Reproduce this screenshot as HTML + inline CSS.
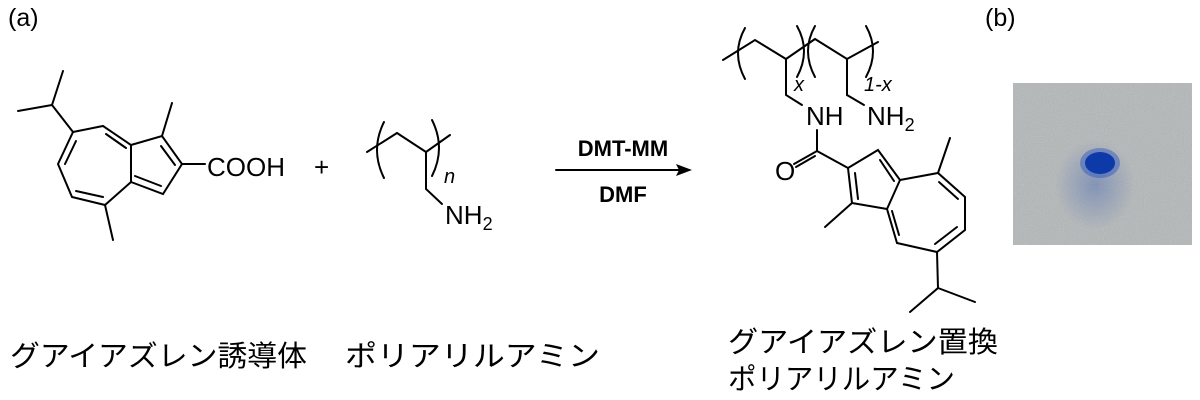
<!DOCTYPE html>
<html><head><meta charset="utf-8"><style>
html,body{margin:0;padding:0;background:#fff;width:1200px;height:400px;overflow:hidden}
text{font-family:"Liberation Sans",Arial,sans-serif;fill:#000}
.jp{font-family:"Liberation Sans","Noto Sans CJK JP",sans-serif;font-size:29px}
</style></head><body>
<svg width="1200" height="400" viewBox="0 0 1200 400" xmlns="http://www.w3.org/2000/svg">
<defs>
<filter id="noise" filterUnits="userSpaceOnUse" x="1013" y="83" width="179" height="162"><feTurbulence type="fractalNoise" baseFrequency="0.9" numOctaves="2" seed="3"/><feColorMatrix type="saturate" values="0"/><feComponentTransfer><feFuncA type="linear" slope="0.5"/></feComponentTransfer></filter>
<radialGradient id="blue" cx="0.5" cy="0.5" r="0.5"><stop offset="0" stop-color="#1040b0" stop-opacity="0.3"/><stop offset="1" stop-color="#1040b0" stop-opacity="0"/></radialGradient>
<clipPath id="ph"><rect x="1013" y="83" width="179" height="162"/></clipPath>
</defs>
<text x="8" y="26" font-size="25">(a)</text>
<text x="985" y="26" font-size="25">(b)</text>
<g stroke="#000" stroke-width="2" fill="none" stroke-linecap="round">
<path d="M18,111 L52,105 L63,71 M52,105 L73,132"/>
<path d="M73,132 L103,126 L131,145 L131,182 L105,205 L72,197 L58,164 Z"/>
<path d="M131,145 L162,136 L182,164 L163,194 L131,182"/>
<path d="M162,136 L172,103 M105,205 L113,240 M182,164 L205,164"/>
<path d="M76,141 L65,164 M106,134 L126,148 M76,191 L103,197 M161,146 L175,165 M135,176 L161,186"/>
<path d="M367,152 L397,133 L426,152 L450,135 M426,152 L426,189 L442,204"/>
<path d="M384,122 Q370,150 384,178 M432,120 Q446,148 432,176"/>
<path d="M556,170 L680,170"/>
<path d="M723,60 L755,40 L786,59 L815,39 L847,59 L878,42"/>
<path d="M745,28 Q731,53 745,79 M797,26 Q811,51 797,77 M815,26 Q801,51 815,77 M866,26 Q880,51 866,77"/>
<path d="M786,59 L786,95 L802,105 M847,59 L847,95 L864,105"/>
<path d="M817,130 L817,151 L848,168 M817,151 L794,164 M815,156 L796,167"/>
<path d="M848,168 L878,150 L900,180 L887,209 L852,203 Z"/>
<path d="M855,173 L858,199 M880,160 L894,181"/>
<path d="M900,180 L938,173 L965,197 L965,230 L937,252 L897,243 L887,209"/>
<path d="M939,182 L958,199 M935,244 L957,227 M899,235 L892,211"/>
<path d="M852,203 L825,227 M938,173 L950,138 M937,252 L938,288 L910,312 M938,288 L975,302"/>
</g>
<polygon points="692,170 676,164 679,170 676,176" fill="#000"/>
<text x="207" y="176" font-size="26">COOH</text>
<text x="314" y="176" font-size="26">+</text>
<text x="444" y="183" font-size="20" font-style="italic">n</text>
<text x="445" y="224" font-size="26">NH<tspan font-size="18" dy="6">2</tspan></text>
<text x="623" y="156" font-size="22" font-weight="bold" text-anchor="middle">DMT-MM</text>
<text x="623" y="202" font-size="22" font-weight="bold" text-anchor="middle">DMF</text>
<text x="794" y="91" font-size="20" font-style="italic">x</text>
<text x="864" y="91" font-size="20" font-style="italic">1-x</text>
<text x="806" y="125" font-size="26">NH</text>
<text x="867" y="125" font-size="26">NH<tspan font-size="18" dy="6">2</tspan></text>
<text x="775" y="180" font-size="26">O</text>
<g clip-path="url(#ph)">
<rect x="1013" y="83" width="179" height="162" fill="#b4b8b9"/>
<rect x="1013" y="83" width="179" height="162" filter="url(#noise)" opacity="0.6"/>
<ellipse cx="1095" cy="185" rx="40" ry="45" fill="url(#blue)"/>
<ellipse cx="1100" cy="163" rx="20" ry="15" fill="#1848c0" opacity="0.4"/>
<ellipse cx="1100" cy="163" rx="15" ry="11" fill="#0c3aa8"/>
</g>
<text class="jp" x="10" y="366" textLength="297" lengthAdjust="spacingAndGlyphs">グアイアズレン誘導体</text>
<text class="jp" x="345" y="366" textLength="255" lengthAdjust="spacingAndGlyphs">ポリアリルアミン</text>
<text class="jp" x="728" y="352" textLength="270" lengthAdjust="spacingAndGlyphs">グアイアズレン置換</text>
<text class="jp" x="728" y="389" textLength="227" lengthAdjust="spacingAndGlyphs">ポリアリルアミン</text>
</svg>
</body></html>
